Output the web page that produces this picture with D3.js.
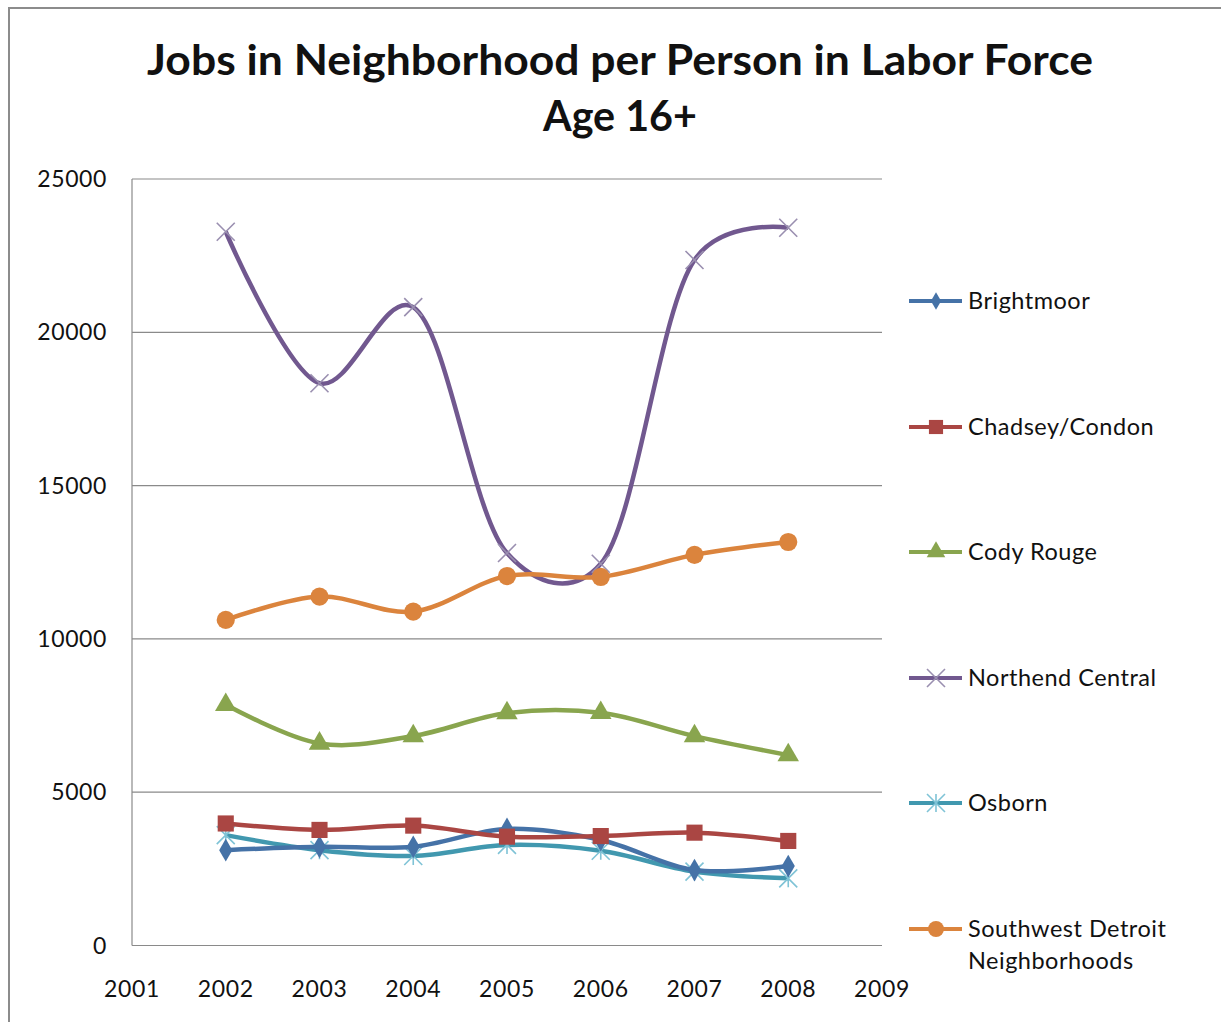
<!DOCTYPE html>
<html>
<head>
<meta charset="utf-8">
<script src="https://cdn.jsdelivr.net/npm/d3@7"></script>
<style>
  html, body { margin: 0; padding: 0; background: #fff; }
  svg { display: block; }
  text { font-family: Lato, "Open Sans", sans-serif; fill: #111; }
</style>
</head>
<body>
<svg id="chart" width="1221" height="1022"></svg>
<script>
// Years on the x axis (axis runs one year beyond the data on each side)
const years = [2002, 2003, 2004, 2005, 2006, 2007, 2008];
const xTicks = [2001, 2002, 2003, 2004, 2005, 2006, 2007, 2008, 2009];
const yTicks = [0, 5000, 10000, 15000, 20000, 25000];

// Jobs in neighborhood per person in labor force, by neighborhood
const brightmoor = [3110, 3220, 3220, 3800, 3440, 2460, 2590];
const chadsey    = [3980, 3770, 3910, 3550, 3570, 3680, 3410];
const codyRouge  = [7850, 6590, 6830, 7580, 7590, 6830, 6210];
const northend   = [23280, 18340, 20820, 12800, 12450, 22360, 23410];
const osborn     = [3600, 3110, 2920, 3280, 3090, 2410, 2190];
const southwest  = [10620, 11380, 10890, 12050, 12020, 12740, 13160];

const seriesNames = ["Brightmoor", "Chadsey/Condon", "Cody Rouge", "Northend Central", "Osborn", "Southwest Detroit Neighborhoods"];
const seriesValues = [brightmoor, chadsey, codyRouge, northend, osborn, southwest];
const seriesColors = ["#4572A7", "#AA4643", "#89A54E", "#71588F", "#4198AF", "#DB843D"];
const seriesMarkers = ["diamond", "square", "triangle", "x", "star", "circle"];

const svg = d3.select("#chart");

// outer chart frame
svg.append("rect")
  .attr("x", 9).attr("y", 8)
  .attr("width", 1240).attr("height", 1040)
  .attr("fill", "none").attr("stroke", "#8c8c8c").attr("stroke-width", 2);

// title
const title = svg.append("text")
  .attr("text-anchor", "middle")
  .attr("font-weight", "bold").attr("font-size", 42);
title.append("tspan").attr("x", 620).attr("y", 75)
  .attr("textLength", 946).attr("lengthAdjust", "spacingAndGlyphs")
  .text("Jobs in Neighborhood per Person in Labor Force");
title.append("tspan").attr("x", 620).attr("y", 131)
  .attr("textLength", 154).attr("lengthAdjust", "spacingAndGlyphs")
  .text("Age 16+");

const plot = { left: 132, right: 882, top: 179, bottom: 945.5 };

const x = d3.scaleLinear().domain([2001, 2009]).range([plot.left, plot.right]);
const y = d3.scaleLinear().domain([0, 25000]).range([plot.bottom, plot.top]);

// horizontal gridlines
svg.append("g")
  .selectAll("line")
  .data(yTicks)
  .join("line")
  .attr("x1", plot.left).attr("x2", plot.right)
  .attr("y1", d => y(d)).attr("y2", d => y(d))
  .attr("stroke", "#8a8a8a").attr("stroke-width", 1.2);

// y axis line
svg.append("line")
  .attr("x1", plot.left).attr("x2", plot.left)
  .attr("y1", plot.top).attr("y2", plot.bottom)
  .attr("stroke", "#8a8a8a").attr("stroke-width", 1.2);

// y tick labels
svg.append("g")
  .selectAll("text")
  .data(yTicks)
  .join("text")
  .attr("x", 107).attr("y", d => y(d) + 8)
  .attr("text-anchor", "end").attr("font-size", 23)
  .attr("letter-spacing", 0.6)
  .text(d => d);

// x tick labels
svg.append("g")
  .selectAll("text")
  .data(xTicks)
  .join("text")
  .attr("x", d => x(d)).attr("y", 997)
  .attr("text-anchor", "middle").attr("font-size", 23)
  .attr("letter-spacing", 0.6)
  .text(d => d);

// smoothed lines
const line = d3.line()
  .x((d, i) => x(years[i]))
  .y(d => y(d))
  .curve(d3.curveCatmullRom.alpha(0.2));

const sym = {
  diamond: d3.symbol().type(d3.symbolDiamond).size(150),
  square: d3.symbol().type(d3.symbolSquare).size(260),
  triangle: d3.symbol().type(d3.symbolTriangle).size(200),
  circle: d3.symbol().type(d3.symbolCircle).size(260)
};

function drawMarker(g, kind, color, cx, cy) {
  if (kind === "x") {
    const s = 9;
    g.append("path")
      .attr("d", `M${cx - s},${cy - s}L${cx + s},${cy + s}M${cx - s},${cy + s}L${cx + s},${cy - s}`)
      .attr("stroke", "#9a8fb0").attr("stroke-width", 1.6).attr("fill", "none");
  } else if (kind === "star") {
    const s = 9;
    g.append("path")
      .attr("d", `M${cx - s},${cy - s}L${cx + s},${cy + s}M${cx - s},${cy + s}L${cx + s},${cy - s}M${cx},${cy - s}L${cx},${cy + s}`)
      .attr("stroke", "#7fc3d6").attr("stroke-width", 1.6).attr("fill", "none");
  } else {
    g.append("path")
      .attr("d", sym[kind]())
      .attr("transform", `translate(${cx},${cy})`)
      .attr("fill", color);
  }
}

const drawOrder = [3, 5, 2, 4, 0, 1];
drawOrder.forEach(si => {
  const g = svg.append("g");
  g.append("path")
    .datum(seriesValues[si])
    .attr("d", line)
    .attr("fill", "none")
    .attr("stroke", seriesColors[si])
    .attr("stroke-width", 4.5)
    .attr("stroke-linejoin", "round");
  seriesValues[si].forEach((v, i) => drawMarker(g, seriesMarkers[si], seriesColors[si], x(years[i]), y(v)));
});

// legend
const legendY = [301, 427, 552, 678, 803, 929];
seriesNames.forEach((name, i) => {
  const g = svg.append("g");
  const ly = legendY[i];
  g.append("line")
    .attr("x1", 909).attr("x2", 962).attr("y1", ly).attr("y2", ly)
    .attr("stroke", seriesColors[i]).attr("stroke-width", 4);
  const k = seriesMarkers[i];
  if (k === "x" || k === "star") {
    drawMarker(g, k, seriesColors[i], 936, ly);
  } else {
    const small = { diamond: 90, square: 200, triangle: 150, circle: 200 }[k];
    const t = { diamond: d3.symbolDiamond, square: d3.symbolSquare, triangle: d3.symbolTriangle, circle: d3.symbolCircle }[k];
    g.append("path")
      .attr("d", d3.symbol().type(t).size(small)())
      .attr("transform", `translate(936,${ly})`)
      .attr("fill", seriesColors[i]);
  }
  const txt = g.append("text").attr("x", 968).attr("y", ly + 8)
    .attr("font-size", 23.5).attr("letter-spacing", 0.5);
  if (name === "Southwest Detroit Neighborhoods") {
    txt.append("tspan").attr("x", 968).attr("y", ly + 8).text("Southwest Detroit");
    txt.append("tspan").attr("x", 968).attr("y", ly + 40).text("Neighborhoods");
  } else {
    txt.text(name);
  }
});
</script>
</body>
</html>
